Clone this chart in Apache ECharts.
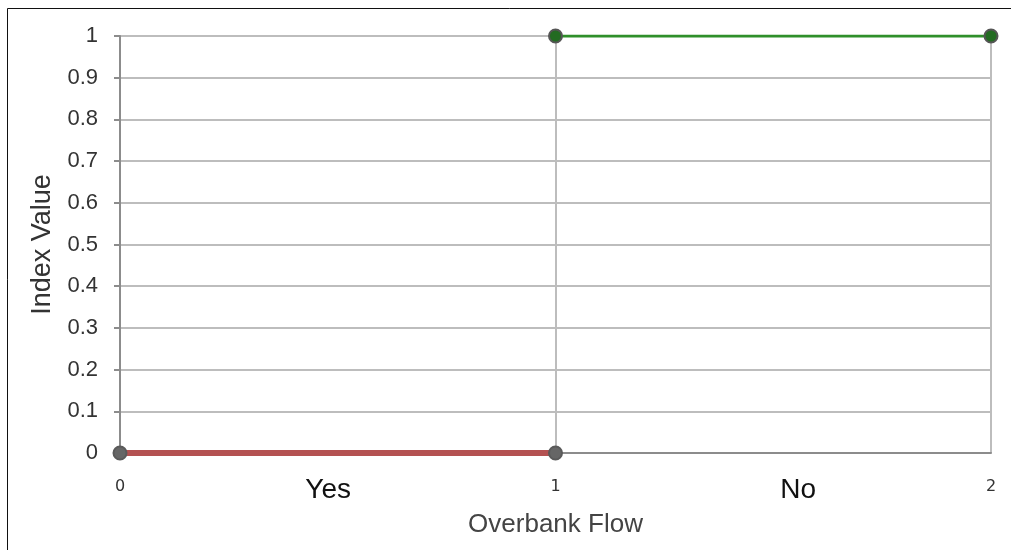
<!DOCTYPE html>
<html>
<head>
<meta charset="utf-8">
<script src="https://cdn.jsdelivr.net/npm/echarts@6/dist/echarts.min.js"></script>
<style>html,body{margin:0;padding:0;background:#fff;}#c{width:1011px;height:550px;}</style>
</head>
<body>
<div id="c"></div>
<script>
var categories = ['Yes', 'No'];
var categoryLabelPositions = [0.478, 1.557];
var xTicks = [0, 1, 2];
var yesSeries = [[0, 0], [1, 0]];
var noSeries = [[1, 1], [2, 1]];

var chart = echarts.init(document.getElementById('c'));
chart.setOption({
  animation: false,
  backgroundColor: '#fff',
  graphic: [{
    type: 'rect', z: 100, silent: true,
    shape: { x: 7.5, y: 8.5, width: 1200, height: 700 },
    style: { fill: 'none', stroke: '#111', lineWidth: 1 }
  }],
  grid: { left: 120, right: 20, top: 36, bottom: 97, containLabel: false },
  xAxis: [{
    type: 'value', min: 0, max: 2, interval: 1, position: 'bottom',
    name: 'Overbank Flow', nameLocation: 'middle', nameGap: 59,
    nameTextStyle: { fontFamily: 'Liberation Sans', fontSize: 26, color: '#444' },
    axisLine: { show: true, lineStyle: { color: '#8c8c8c', width: 2 } },
    axisTick: { show: false },
    axisLabel: { margin: 26, fontFamily: 'DejaVu Sans', fontSize: 16, color: '#333',
      formatter: function (v) { return xTicks.indexOf(v) >= 0 ? String(v) : ''; } },
    splitLine: { show: true, lineStyle: { color: '#bdbdbd', width: 2 } }
  }, {
    type: 'value', min: 0, max: 2, position: 'bottom', offset: 0,
    axisLine: { show: false }, axisTick: { show: false }, splitLine: { show: false },
    axisLabel: { customValues: categoryLabelPositions, margin: 23, fontFamily: 'Liberation Sans', fontSize: 28, color: '#111',
      formatter: function (v) { var i = categoryLabelPositions.indexOf(v); return i >= 0 ? categories[i] : ''; } }
  }],
  yAxis: {
    type: 'value', min: 0, max: 1, interval: 0.1,
    name: 'Index Value', nameLocation: 'middle', nameGap: 61, nameRotate: 90,
    nameTextStyle: { fontFamily: 'Liberation Sans', fontSize: 27, color: '#333' },
    axisLine: { show: true, lineStyle: { color: '#8c8c8c', width: 2 } },
    axisTick: { show: true, length: 6, lineStyle: { color: '#8c8c8c', width: 2 } },
    axisLabel: { margin: 22, fontFamily: 'Liberation Sans', fontSize: 22, color: '#333',
      formatter: function (v) { return String(Math.round(v * 10) / 10); } },
    splitLine: { show: true, lineStyle: { color: '#bdbdbd', width: 2 } }
  },
  series: [{
    type: 'line', data: yesSeries, symbol: 'circle', symbolSize: 13,
    lineStyle: { color: '#b45252', width: 6 },
    itemStyle: { color: '#666', borderColor: '#5a5a5a', borderWidth: 2 }
  }, {
    type: 'line', data: noSeries, symbol: 'circle', symbolSize: 13,
    lineStyle: { color: '#2f8f2a', width: 3 },
    itemStyle: { color: '#236b22', borderColor: '#555', borderWidth: 2 }
  }]
});
</script>
</body>
</html>
